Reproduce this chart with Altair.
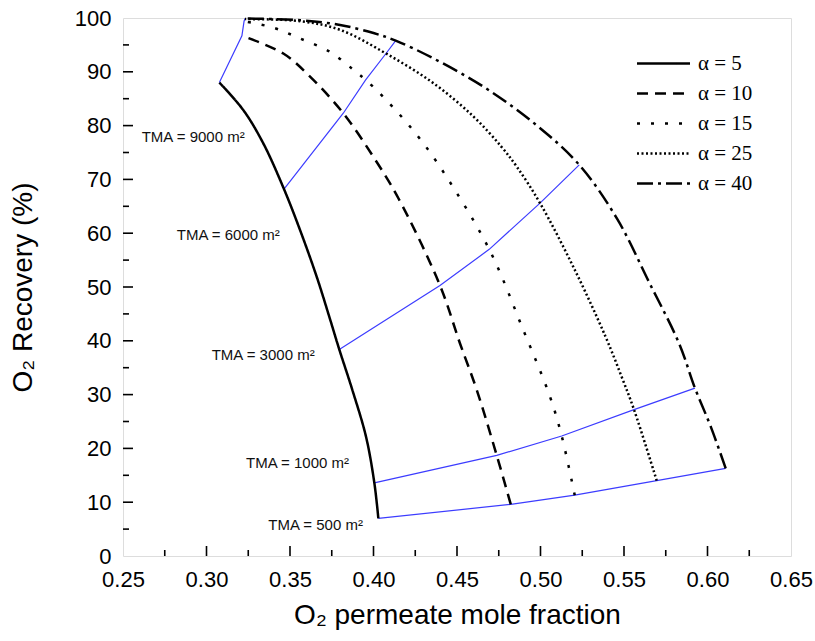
import altair as alt
import pandas as pd

# ---- data ----
alpha_labels = ["α = 5", "α = 10", "α = 15", "α = 25", "α = 40"]

a5_x = [0.4029, 0.4005, 0.3955, 0.3873, 0.3795, 0.3735, 0.3660, 0.3560, 0.3464, 0.3340, 0.3220, 0.3077]
a5_y = [7.0, 13.6, 22.2, 30.9, 38.4, 44.5, 51.9, 60.6, 68.2, 76.7, 82.9, 88.0]

a10_x = [0.4822, 0.4738, 0.4618, 0.4518, 0.4398, 0.4149, 0.3999, 0.3819, 0.3620, 0.3460, 0.3212]
a10_y = [9.6, 18.7, 30.9, 39.5, 50.3, 66.5, 74.2, 82.3, 89.1, 93.4, 96.7]

a15_x = [0.5205, 0.5127, 0.5057, 0.4897, 0.4693, 0.4418, 0.4259, 0.4075, 0.3953, 0.3879, 0.3740, 0.3560, 0.3400, 0.3225]
a15_y = [11.3, 22.3, 29.6, 42.0, 57.0, 71.4, 78.3, 84.8, 88.5, 90.4, 93.7, 96.2, 98.2, 99.4]

a25_x = [0.5696, 0.5560, 0.5486, 0.5389, 0.5205, 0.4997, 0.4857, 0.4765, 0.4598, 0.4358, 0.4075, 0.3800, 0.3563, 0.3230]
a25_y = [14.0, 27.2, 33.3, 40.8, 53.2, 65.6, 72.4, 76.1, 81.7, 87.9, 93.4, 97.8, 99.4, 99.8]

a40_x = [0.6109, 0.6020, 0.5925, 0.5830, 0.5650, 0.5460, 0.5232, 0.4975, 0.4670, 0.4358, 0.4133, 0.4000, 0.3800, 0.3560, 0.3232]
a40_y = [16.3, 24.0, 31.2, 39.5, 50.9, 62.6, 72.7, 80.1, 87.0, 92.5, 95.8, 97.2, 98.7, 99.6, 99.9]

tma_names = ["500", "1000", "3000", "6000", "9000"]
t500_x = [0.4029, 0.4822, 0.5205, 0.5696, 0.6109]
t500_y = [7.0, 9.6, 11.3, 14.0, 16.3]
t1000_x = [0.4005, 0.4738, 0.5127, 0.5560, 0.5925]
t1000_y = [13.6, 18.7, 22.3, 27.2, 31.2]
t3000_x = [0.3795, 0.4398, 0.4693, 0.4997, 0.5232]
t3000_y = [38.4, 50.3, 57.0, 65.6, 72.7]
t6000_x = [0.3464, 0.3819, 0.3953, 0.4075, 0.4133]
t6000_y = [68.2, 82.3, 88.5, 93.4, 95.8]
t9000_x = [0.3077, 0.3212, 0.3225, 0.3230, 0.3232]
t9000_y = [88.0, 96.7, 99.4, 99.8, 99.9]

tma_text = ["TMA = 500 m²", "TMA = 1000 m²", "TMA = 3000 m²", "TMA = 6000 m²", "TMA = 9000 m²"]
tma_text_x = [0.3370, 0.3237, 0.3031, 0.2822, 0.2612]
tma_text_y = [5.8, 17.2, 37.4, 59.7, 77.9]

x_major = [0.25, 0.30, 0.35, 0.40, 0.45, 0.50, 0.55, 0.60, 0.65]
x_minor = [0.275, 0.325, 0.375, 0.425, 0.475, 0.525, 0.575, 0.625]
y_major = [0, 10, 20, 30, 40, 50, 60, 70, 80, 90, 100]
y_minor = [5, 15, 25, 35, 45, 55, 65, 75, 85, 95]

# ---- tables ----
curve_rows = []
for lab, xs, ys in zip(alpha_labels, [a5_x, a10_x, a15_x, a25_x, a40_x], [a5_y, a10_y, a15_y, a25_y, a40_y]):
    for i, (xv, yv) in enumerate(zip(xs, ys)):
        curve_rows.append({"alpha": lab, "i": i, "x": xv, "y": yv})
curves = pd.DataFrame(curve_rows)

tma_rows = []
for name, xs, ys in zip(tma_names, [t500_x, t1000_x, t3000_x, t6000_x, t9000_x],
                        [t500_y, t1000_y, t3000_y, t6000_y, t9000_y]):
    for i, (xv, yv) in enumerate(zip(xs, ys)):
        tma_rows.append({"tma": name, "i": i, "x": xv, "y": yv})
tma_df = pd.DataFrame(tma_rows)

text_df = pd.DataFrame({"t": tma_text, "x": tma_text_x, "y": tma_text_y})

W, H = 668, 538
FONT = "Liberation Sans"

xscale = alt.Scale(domain=[0.25, 0.65], nice=False, zero=False)
yscale = alt.Scale(domain=[0, 100], nice=False, zero=False)

xaxis = alt.Axis(values=x_major, format=".2f", ticks=False, domain=False, grid=False,
                 labelFont=FONT, labelFontSize=22, labelColor="black", labelPadding=13,
                 title="O₂ permeate mole fraction", titleFont=FONT, titleFontSize=28,
                 titleFontWeight="normal", titleColor="black", titlePadding=11,
                 labelFlush=False)
yaxis = alt.Axis(values=y_major, format="d", ticks=False, domain=False, grid=False,
                 labelFont=FONT, labelFontSize=22, labelColor="black", labelPadding=12,
                 title="O₂ Recovery (%)", titleFont=FONT, titleFontSize=28,
                 titleFontWeight="normal", titleColor="black", titlePadding=37)

blue = alt.Chart(tma_df).mark_line(color="#3c3cff", strokeWidth=1.2).encode(
    x=alt.X("x:Q", scale=xscale, axis=xaxis),
    y=alt.Y("y:Q", scale=yscale, axis=yaxis),
    detail="tma:N",
    order="i:Q",
)

black = alt.Chart(curves).mark_line(color="black", strokeWidth=2.5, interpolate="catmull-rom").encode(
    x=alt.X("x:Q", scale=xscale),
    y=alt.Y("y:Q", scale=yscale),
    order="i:Q",
    strokeDash=alt.StrokeDash(
        "alpha:N",
        title=None,
        scale=alt.Scale(domain=alpha_labels,
                        range=[[1, 0], [11, 7], [3, 11], [2, 2.5], [16, 5, 3, 5]]),
        legend=alt.Legend(orient="none", legendX=530, legendY=35,
                          symbolType="M-3,0H3", symbolSize=312,
                          symbolStrokeWidth=2.5, symbolStrokeColor="black",
                          labelFont="Liberation Serif", labelFontSize=21, labelColor="black",
                          labelOffset=24, rowPadding=8, padding=0),
    ),
)

texts = alt.Chart(text_df).mark_text(align="left", baseline="middle", font=FONT,
                                     fontSize=15, color="#111111").encode(
    x=alt.X("x:Q", scale=xscale),
    y=alt.Y("y:Q", scale=yscale),
    text="t:N",
)

xt_major = alt.Chart(pd.DataFrame({"v": x_major[1:-1]})).mark_rule(color="black", strokeWidth=1.6).encode(
    x=alt.X("v:Q", scale=xscale), y=alt.value(H), y2=alt.value(H - 10))
xt_minor = alt.Chart(pd.DataFrame({"v": x_minor})).mark_rule(color="black", strokeWidth=1.6).encode(
    x=alt.X("v:Q", scale=xscale), y=alt.value(H), y2=alt.value(H - 6))
yt_major = alt.Chart(pd.DataFrame({"v": y_major[1:-1]})).mark_rule(color="black", strokeWidth=1.6).encode(
    y=alt.Y("v:Q", scale=yscale), x=alt.value(0), x2=alt.value(10))
yt_minor = alt.Chart(pd.DataFrame({"v": y_minor})).mark_rule(color="black", strokeWidth=1.6).encode(
    y=alt.Y("v:Q", scale=yscale), x=alt.value(0), x2=alt.value(6))

chart = alt.layer(blue, black, texts, xt_major, xt_minor, yt_major, yt_minor).properties(
    width=W, height=H,
    autosize=alt.AutoSizeParams(type="none"),
    padding={"left": 123, "top": 18, "right": 24, "bottom": 85},
).configure_view(stroke="black", strokeWidth=2).configure(background="white")

chart.save("out.html", embed_options={"renderer": "svg", "actions": False})
